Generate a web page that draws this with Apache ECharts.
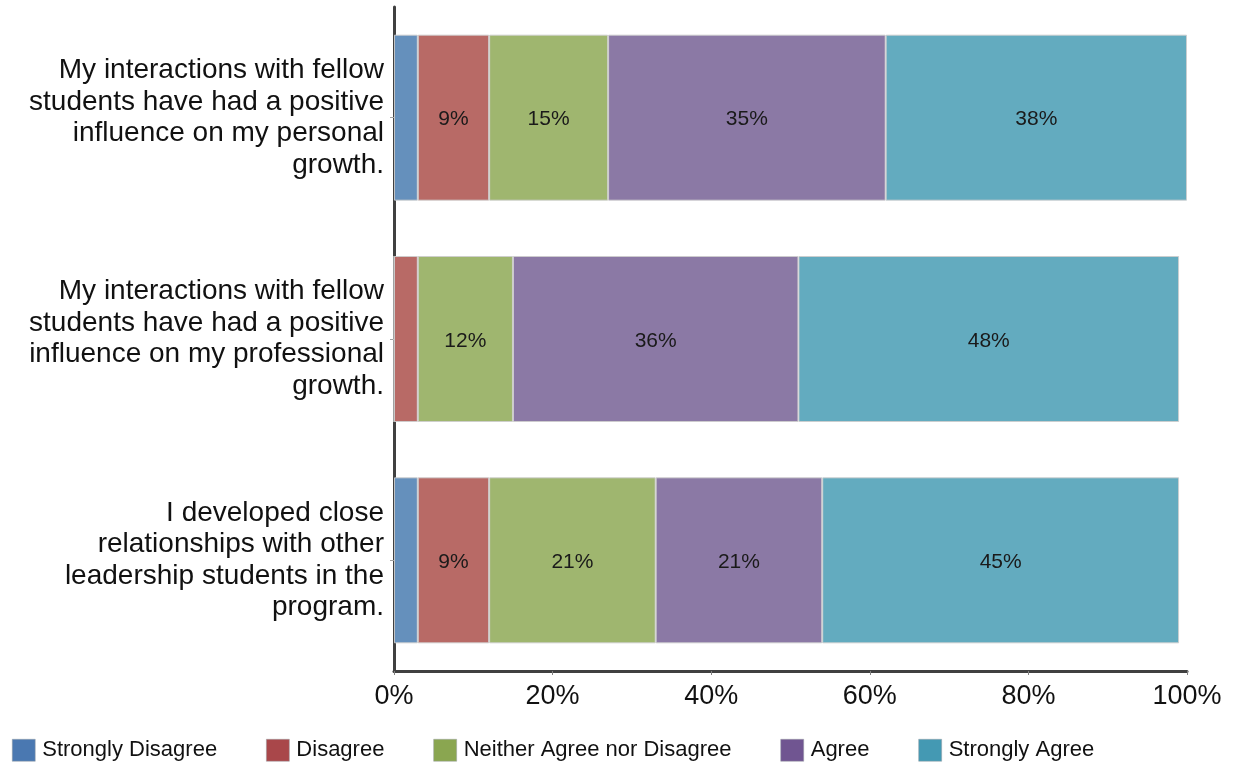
<!DOCTYPE html>
<html>
<head>
<meta charset="utf-8">
<script src="https://cdn.jsdelivr.net/npm/echarts@6/dist/echarts.min.js"></script>
<style>
  html, body { margin: 0; padding: 0; background: #ffffff; }
  #chart { width: 1233px; height: 765px; }
</style>
</head>
<body>
<div id="chart"></div>
<script>
// Survey statements (top to bottom)
const statements = [
  'My interactions with fellow\nstudents have had a positive\ninfluence on my personal\ngrowth.',
  'My interactions with fellow\nstudents have had a positive\ninfluence on my professional\ngrowth.',
  'I developed close\nrelationships with other\nleadership students in the\nprogram.'
];

// Response shares in percent, one array per answer option
const stronglyDisagree = [3, 0, 3];
const disagree         = [9, 3, 9];
const neither          = [15, 12, 21];
const agree            = [35, 36, 21];
const stronglyAgree    = [38, 48, 45];

const seriesNames = ['Strongly Disagree', 'Disagree', 'Neither Agree nor Disagree', 'Agree', 'Strongly Agree'];
const seriesValues = [stronglyDisagree, disagree, neither, agree, stronglyAgree];
const barColors = ['#6590bc', '#b86a66', '#9fb66f', '#8b79a5', '#63abbf'];
const legendColors = ['#4a78b1', '#a9474a', '#8aa650', '#705591', '#4499b3'];

const xTicks = [0, 20, 40, 60, 80, 100];

const FONT = '"Liberation Sans", Arial, sans-serif';

const chart = echarts.init(document.getElementById('chart'), null, { renderer: 'canvas' });

const series = seriesNames.map((name, i) => ({
  name: name,
  type: 'bar',
  stack: 'total',
  barCategoryGap: '25%',
  data: seriesValues[i],
  itemStyle: {
    color: barColors[i],
    borderColor: 'rgba(205,205,205,0.9)',
    borderWidth: 1
  },
  label: {
    show: true,
    position: 'inside',
    offset: [0, 2],
    color: '#1a1a1a',
    fontFamily: FONT,
    fontSize: 21,
    formatter: p => (p.value >= 5 ? p.value + '%' : '')
  },
  emphasis: { disabled: true }
}));

chart.setOption({
  animation: false,
  backgroundColor: '#ffffff',
  textStyle: { fontFamily: FONT },
  grid: { left: 394, right: 46, top: 7, bottom: 94, containLabel: false },
  legend: {
    left: 12,
    top: 739,
    padding: 0,
    itemWidth: 23,
    itemHeight: 22,
    itemGap: 49,
    textStyle: { fontFamily: FONT, fontSize: 22, color: '#111111', padding: [0, 0, 0, 2] },
    data: seriesNames.map((n, i) => ({
      name: n,
      icon: 'rect',
      itemStyle: { color: legendColors[i], borderColor: '#9aa0a6', borderWidth: 0.5 }
    }))
  },
  xAxis: {
    type: 'value',
    min: xTicks[0],
    max: xTicks[xTicks.length - 1],
    interval: xTicks[1] - xTicks[0],
    splitLine: { show: false },
    axisLine: { show: true, lineStyle: { color: '#404040', width: 3 } },
    axisTick: { show: true, length: 4, lineStyle: { color: '#808080', width: 1 } },
    axisLabel: {
      margin: 12,
      fontFamily: FONT,
      fontSize: 27,
      color: '#111111',
      formatter: v => v + '%'
    }
  },
  yAxis: {
    type: 'category',
    inverse: true,
    data: statements,
    axisLine: { show: true, lineStyle: { color: '#404040', width: 3 } },
    axisTick: { show: true, alignWithLabel: true, length: 4, lineStyle: { color: '#a0a0a0', width: 1 } },
    axisLabel: {
      margin: 10,
      fontFamily: FONT,
      fontSize: 28,
      lineHeight: 31.5,
      padding: [10, 0, 0, 0],
      color: '#111111',
      align: 'right'
    }
  },
  series: series
});
</script>
</body>
</html>
